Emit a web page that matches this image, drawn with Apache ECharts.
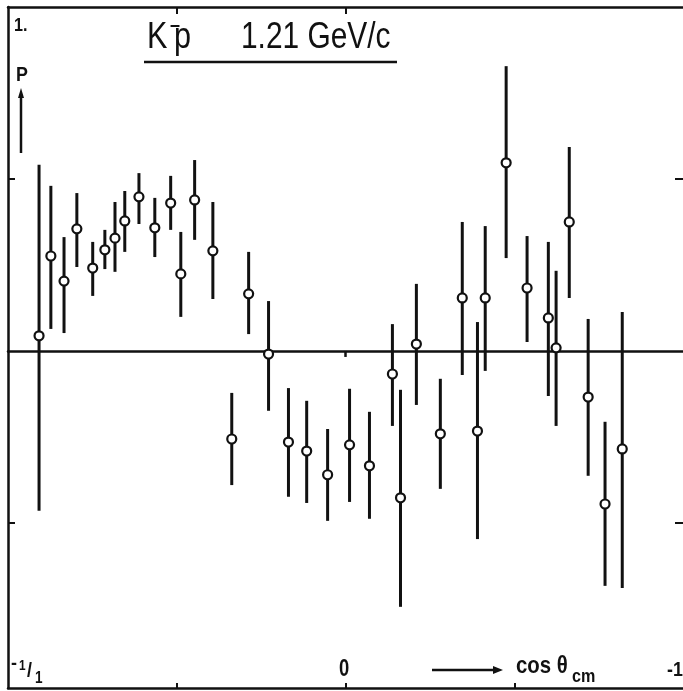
<!DOCTYPE html>
<html>
<head>
<meta charset="utf-8">
<title>K-p 1.21 GeV/c polarization</title>
<script src="https://cdn.jsdelivr.net/npm/echarts@6/dist/echarts.min.js"></script>
<style>
  html, body { margin: 0; padding: 0; background: #fff; }
  #chart { width: 683px; height: 691px; }
</style>
</head>
<body>
<div id="chart"></div>
<script>
// cos theta_cm (1 on the left, -1 on the right)
const cosTheta = [
  0.908, 0.873, 0.834, 0.796, 0.749, 0.713, 0.683, 0.654, 0.612, 0.565,
  0.518, 0.488, 0.447, 0.393, 0.337, 0.287, 0.228, 0.169, 0.115, 0.053,
  -0.012, -0.071, -0.139, -0.163, -0.210, -0.281, -0.346, -0.391, -0.414, -0.476,
  -0.538, -0.601, -0.624, -0.663, -0.719, -0.769, -0.820
];
// polarization P
const polarization = [
  0.044, 0.276, 0.203, 0.355, 0.241, 0.294, 0.328, 0.378, 0.448, 0.358,
  0.430, 0.224, 0.439, 0.291, -0.256, 0.166, -0.009, -0.265, -0.291, -0.360,
  -0.273, -0.334, -0.067, -0.427, 0.020, -0.241, 0.154, -0.233, 0.154, 0.547,
  0.183, 0.096, 0.009, 0.375, -0.134, -0.445, -0.285
];
// error bar ends
const errLower = [
  -0.465, 0.064, 0.052, 0.244, 0.160, 0.238, 0.230, 0.288, 0.369, 0.273,
  0.352, 0.099, 0.323, 0.151, -0.390, 0.049, -0.174, -0.424, -0.442, -0.494,
  -0.439, -0.488, -0.218, -0.744, -0.157, -0.401, -0.070, -0.547, -0.058, 0.270,
  0.026, -0.131, -0.218, 0.154, -0.363, -0.683, -0.689
];
const errUpper = [
  0.541, 0.480, 0.331, 0.459, 0.317, 0.352, 0.433, 0.465, 0.517, 0.445,
  0.509, 0.346, 0.555, 0.433, -0.122, 0.288, 0.145, -0.108, -0.145, -0.227,
  -0.110, -0.177, 0.078, -0.113, 0.195, -0.081, 0.375, 0.084, 0.363, 0.828,
  0.334, 0.317, 0.233, 0.593, 0.093, -0.206, 0.113
];
const xTicksBottom = [0.5, 0, -0.5];
const xTicksTop = [0.5, 0];
const yTicks = [0.5, -0.5];

const ink = "#111";
const font = "Liberation Sans";

const points = cosTheta.map((c, i) => [c, polarization[i]]);
const bars = cosTheta.map((c, i) => [c, errLower[i], errUpper[i]]);

const chart = echarts.init(document.getElementById("chart"), null, { renderer: "canvas" });

const frameAxis = (extra) => Object.assign({
  type: "value",
  min: -1,
  max: 1,
  inverse: true,
  axisLine: { onZero: false, lineStyle: { color: ink, width: 2.5 } },
  axisLabel: { show: false },
  splitLine: { show: false },
}, extra);

// condensed lettering like the original drawing
const label = (text, left, top, size, weight, sx) => ({
  type: "text",
  left: left,
  top: top,
  scaleX: sx || 1,
  style: { text: text, font: (weight || "normal") + " " + size + "px " + font, fill: ink },
});

chart.setOption({
  animation: false,
  backgroundColor: "#fff",
  grid: { left: 8, top: 7, width: 676, height: 681 },
  xAxis: [
    frameAxis({
      position: "bottom",
      axisTick: { inside: true, length: 5, customValues: xTicksBottom, lineStyle: { color: ink, width: 2 } },
    }),
    frameAxis({
      position: "top",
      axisTick: { inside: true, length: 7, customValues: xTicksTop, lineStyle: { color: ink, width: 2 } },
    }),
    // the P = 0 line
    frameAxis({
      position: "bottom",
      axisLine: { onZero: true, lineStyle: { color: ink, width: 2.5 } },
      axisTick: { inside: false, length: 6, customValues: [0], lineStyle: { color: ink, width: 2.5 } },
    }),
  ],
  yAxis: [
    {
      type: "value",
      position: "left",
      min: -0.98,
      max: 1,
      axisLine: { onZero: false, lineStyle: { color: ink, width: 2.5 } },
      axisTick: { inside: true, length: 7, customValues: yTicks, lineStyle: { color: ink, width: 2 } },
      axisLabel: { show: false },
      splitLine: { show: false },
    },
    {
      type: "value",
      position: "right",
      min: -0.98,
      max: 1,
      axisLine: { show: false, onZero: false },
      axisTick: { inside: true, length: 8, customValues: yTicks, lineStyle: { color: ink, width: 2 } },
      axisLabel: { show: false },
      splitLine: { show: false },
    },
  ],
  series: [
    {
      type: "custom",
      xAxisIndex: 0,
      yAxisIndex: 0,
      data: bars,
      z: 2,
      renderItem: (params, api) => {
        const top = api.coord([api.value(0), api.value(2)]);
        const bottom = api.coord([api.value(0), api.value(1)]);
        return {
          type: "line",
          shape: { x1: top[0], y1: top[1], x2: bottom[0], y2: bottom[1] },
          style: { stroke: ink, lineWidth: 3 },
        };
      },
    },
    {
      type: "scatter",
      xAxisIndex: 0,
      yAxisIndex: 0,
      data: points,
      z: 3,
      symbol: "circle",
      symbolSize: 9,
      itemStyle: { color: "#fff", borderColor: ink, borderWidth: 2.2, opacity: 1 },
    },
  ],
  graphic: [
    label("1.", 14, 16, 19, "bold", 0.85),
    label("P", 16, 65, 21, "bold", 0.85),
    { type: "line", shape: { x1: 21, y1: 153, x2: 21, y2: 96 }, style: { stroke: ink, lineWidth: 2.5 } },
    { type: "polygon", shape: { points: [[21, 88], [18, 98], [24, 98]] }, style: { fill: ink } },

    label("K", 147, 20, 36, "normal", 0.85),
    label("–", 170, 15, 20, "bold", 0.9),
    label("p", 174, 20, 36, "normal", 0.85),
    label("1.21 GeV/c", 241, 20, 36, "normal", 0.83),
    { type: "line", shape: { x1: 144, y1: 62, x2: 397, y2: 62 }, style: { stroke: ink, lineWidth: 2.5 } },

    label("-", 11, 655, 18, "bold"),
    label("1", 19, 659, 14, "bold", 0.85),
    label("/", 27, 661, 21, "bold", 0.85),
    label("1", 35, 671, 16, "bold", 0.85),

    label("0", 339, 658, 23, "bold", 0.8),

    { type: "line", shape: { x1: 432, y1: 670, x2: 494, y2: 670 }, style: { stroke: ink, lineWidth: 2.5 } },
    { type: "polygon", shape: { points: [[503, 670], [493, 666], [493, 674]] }, style: { fill: ink } },
    label("cos θ", 516, 654, 24, "bold", 0.85),
    label("cm", 572, 667, 19, "bold", 0.85),
    label("-1", 667, 660, 21, "bold", 0.85),
  ],
});
</script>
</body>
</html>
